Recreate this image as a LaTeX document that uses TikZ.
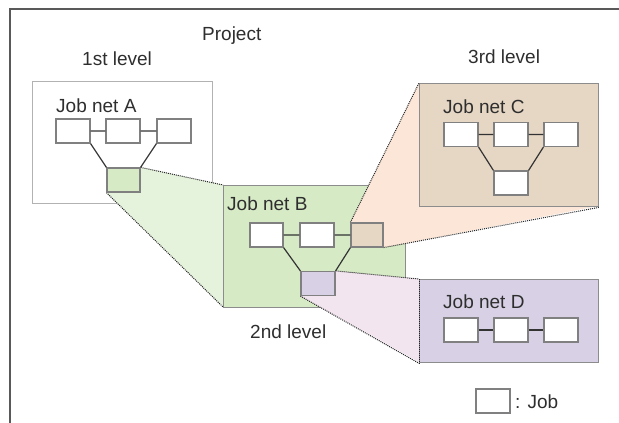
\documentclass[tikz,border=0pt]{standalone}
\usepackage{fontspec}
\setmainfont{Liberation Sans}
\begin{document}
\begin{tikzpicture}[x=1pt,y=-1pt,
  lbl/.style={anchor=base west,inner sep=0pt,text=black!82,font=\fontsize{19}{22}\selectfont},
  netbox/.style={draw=black!45,line width=1.3pt,anchor=north west,inner sep=0pt},
  jobbox/.style={draw=black!50,fill=white,line width=1.2pt,minimum width=34pt,minimum height=24pt,inner sep=0pt},
  link/.style={draw=black!80,line width=1.2pt},
  zoomedge/.style={draw=black!85,line width=1pt,densely dotted}]
\useasboundingbox (0,0) rectangle (619,423);
\definecolor{gA}{HTML}{D6EAC6}
\definecolor{gL}{HTML}{E5F2DC}
\definecolor{tC}{HTML}{E6D6C4}
\definecolor{pC}{HTML}{FBE6D8}
\definecolor{lD}{HTML}{D8D1E5}
\definecolor{pk}{HTML}{F3E5F0}
% outer frame
\coordinate (f1) at (10,423);
\coordinate (f2) at (10,9);
\coordinate (f3) at (619,9);
\draw[black!65,line width=2pt] (f1) -- (f2) -- (f3);
\node[lbl] (tproj) at (202,40) {Project};
\node[lbl] (t1) at (82,65) {1st level};
\node[lbl] (t3) at (468,63) {3rd level};
\node[lbl] (t2) at (250,338) {2nd level};
% level 1
\node[netbox,draw=black!30,fill=white,minimum width=180pt,minimum height=122pt] (A) at (32,81) {};
\node[lbl] (tA) at (56,112) {Job net A};
\node[jobbox] (a1) at (73,131) {};
\node[jobbox] (a2) at (123,131) {};
\node[jobbox] (a3) at (174,131) {};
\coordinate (a4c) at (123.5,180);
\node[jobbox,fill=gA,minimum width=33pt] (a4) at (a4c) {};
% level 2 box and zoom region
\coordinate (Bnw) at (223,185);
\coordinate (Bsw) at (223,307);
\fill[gL] (a4.north east) -- (Bnw) -- (Bsw) -- (a4.south west) -- cycle;
\draw[zoomedge] (a4.north east) -- (Bnw);
\draw[zoomedge] (a4.south west) -- (Bsw);
\node[jobbox,fill=gA,minimum width=33pt] at (a4) {};
\draw[link] (a1) -- (a2) (a2) -- (a3) (a1.south east) -- (a4.north west) (a3.south west) -- (a4.north east);
\node[netbox,fill=gA,minimum width=182pt,minimum height=122pt] (B) at (Bnw) {};
\node[lbl] (tB) at (227,210) {Job net B};
\node[jobbox,minimum width=33pt] (b1) at (266.5,235) {};
\node[jobbox] (b2) at (317,235) {};
\node[jobbox,fill=tC,minimum width=32pt] (b3) at (367,235) {};
\node[jobbox,fill=lD] (b4) at (318,283.5) {};
% level 3 zoom regions
\coordinate (Cnw) at (419,83);
\coordinate (Cse) at (598,206);
\coordinate (Dnw) at (419,279);
\coordinate (Dsw) at (419,362);
\fill[pC] (b3.north west) -- (Cnw) -- (Cse) -- (b3.south east) -- cycle;
\fill[pk] (b4.north east) -- (Dnw) -- (Dsw) -- (b4.south west) -- cycle;
\node[netbox,fill=tC,minimum width=179pt,minimum height=123pt] (C) at (Cnw) {};
\node[netbox,fill=lD,minimum width=179pt,minimum height=83pt] (D) at (Dnw) {};
\draw[zoomedge] (b3.north west) -- (C.north west);
\draw[zoomedge] (b3.south east) -- (C.south east);
\draw[zoomedge] (b4.north east) -- (D.north west);
\draw[zoomedge] (b4.south west) -- (D.south west);
\draw[zoomedge] (D.north west) -- (D.south west);
\node[jobbox,fill=tC,minimum width=32pt] at (b3) {};
\node[jobbox,fill=lD] at (b4) {};
\draw[link] (b1) -- (b2) (b2) -- (b3) (b1.south east) -- (b4.north west) (b3.south west) -- (b4.north east);
% C contents
\node[lbl] (tC) at (443,113) {Job net C};
\node[jobbox] (c1) at (461,134.5) {};
\node[jobbox] (c2) at (511,134.5) {};
\node[jobbox] (c3) at (561,134.5) {};
\node[jobbox] (c4) at (511,183) {};
\draw[link] (c1) -- (c2) (c2) -- (c3) (c1.south east) -- (c4.north west) (c3.south west) -- (c4.north east);
% D contents
\node[lbl] (tD) at (443,308) {Job net D};
\node[jobbox] (d1) at (461,330) {};
\node[jobbox] (d2) at (511,330) {};
\node[jobbox] (d3) at (561,330) {};
\draw[link] (d1) -- (d2) (d2) -- (d3);
% legend
\node[jobbox] (leg) at (493,401) {};
\node[lbl] (tleg) at (515,408) {: Job};
\end{tikzpicture}
\end{document}
